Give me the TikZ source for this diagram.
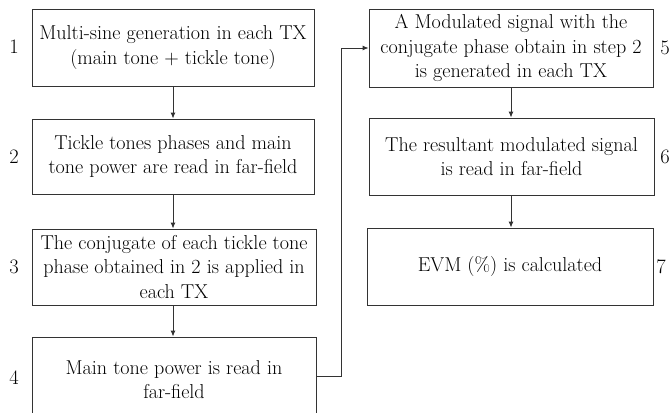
\documentclass[tikz,border=0pt]{standalone}
\usetikzlibrary{arrows.meta}
\begin{document}
\begin{tikzpicture}[x=1pt,y=-1pt,
  stepbox/.style={draw=black!80, line width=0.9pt, inner sep=0pt, align=center,
    font=\fontsize{20.1}{24.3}\selectfont},
  steplabel/.style={inner sep=0pt, font=\fontsize{20.5}{24}\selectfont},
  conn/.style={draw=black!80, line width=0.9pt, -{Latex[length=6pt,width=5pt]}}]
\useasboundingbox (0,0) rectangle (671,412);
\node[stepbox, minimum width=282, minimum height=77] (b1) at (173,47.5)
  {Multi-sine generation in each TX\\(main tone + tickle tone)};
\node[stepbox, minimum width=282, minimum height=75] (b2) at (173,156.5)
  {Tickle tones phases and main\\tone power are read in far-field};
\node[stepbox, minimum width=284, minimum height=76] (b3) at (174,267)
  {The conjugate of each tickle tone\\phase obtained in 2 is applied in\\each TX};
\node[stepbox, minimum width=284, minimum height=85] (b4) at (174,379.5)
  {Main tone power is read in\\far-field};
\node[stepbox, minimum width=284, minimum height=78] (b5) at (511,48)
  {A Modulated signal with the\\conjugate phase obtain in step 2\\is generated in each TX};
\node[stepbox, minimum width=285, minimum height=77] (b6) at (511.5,156.5)
  {The resultant modulated signal\\is read in far-field};
\node[stepbox, minimum width=286, minimum height=77] (b7) at (510,266.5)
  {EVM (\%) is calculated};
\node[steplabel] (l1) at (14,47) {1};
\node[steplabel] (l2) at (14,157) {2};
\node[steplabel] (l3) at (14,267) {3};
\node[steplabel] (l4) at (14,378) {4};
\node[steplabel] (l5) at (665,48) {5};
\node[steplabel] (l6) at (665,157) {6};
\node[steplabel] (l7) at (661,267) {7};
\coordinate (lc) at (173,0);
\coordinate (rc) at (511,0);
\coordinate (fb) at (341,376);
\draw[conn] (lc |- b1.south) -- (lc |- b2.north);
\draw[conn] (lc |- b2.south) -- (lc |- b3.north);
\draw[conn] (lc |- b3.south) -- (lc |- b4.north);
\draw[conn] (rc |- b5.south) -- (rc |- b6.north);
\draw[conn] (rc |- b6.south) -- (rc |- b7.north);
\draw[conn] (fb -| b4.east) -- (fb) |- (b5.west);
\end{tikzpicture}
\end{document}
